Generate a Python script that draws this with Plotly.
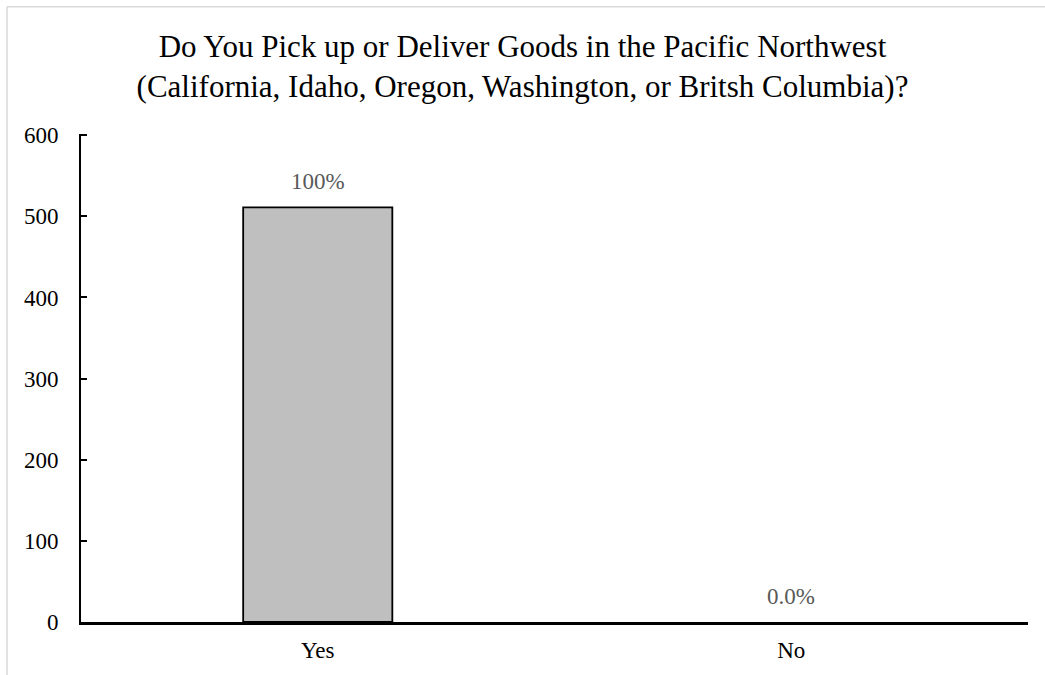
import plotly.graph_objects as go

categories = ["Yes", "No"]
values = [511, 0]
labels = ["100%", "0.0%"]
y_ticks = [0, 100, 200, 300, 400, 500, 600]

FONT = "Liberation Serif, Times New Roman, serif"

fig = go.Figure()
fig.add_trace(go.Bar(
    x=categories, y=values,
    marker=dict(color="#bfbfbf",
                line=dict(color="#000000", width=[1.8 if v > 0 else 0 for v in values])),
    width=0.315,
    hoverinfo="x+y",
))

for c, v, t in zip(categories, values, labels):
    fig.add_annotation(x=c, y=v, text=t, showarrow=False,
                       xref="x", yref="y", yanchor="bottom", yshift=11,
                       font=dict(family=FONT, size=23, color="#595959"))

# light gray chart border
fig.add_shape(type="line", xref="paper", yref="paper",
              x0=(7 - 81) / 947, x1=(7 - 81) / 947,
              y0=(622 - 8) / 487, y1=(622 - 680) / 487,
              line=dict(color="#d9d9d9", width=1.5))
fig.add_shape(type="line", xref="paper", yref="paper",
              x0=(7 - 81) / 947, x1=(1050 - 81) / 947,
              y0=(622 - 8) / 487, y1=(622 - 8) / 487,
              line=dict(color="#d9d9d9", width=1.5))

fig.update_layout(
    width=1045, height=675,
    margin=dict(l=81, r=17, t=134, b=53),
    paper_bgcolor="white", plot_bgcolor="white",
    showlegend=False,
    title=dict(
        text="Do You Pick up or Deliver Goods in the Pacific Northwest<br>(California, Idaho, Oregon, Washington, or Britsh Columbia)?",
        x=0.5, xanchor="center", y=0.916, yanchor="top",
        font=dict(family=FONT, size=31, color="#000000"),
    ),
    font=dict(family=FONT, size=23, color="#000000"),
    xaxis=dict(showline=True, linecolor="#000000", linewidth=2.5,
               ticks="", showgrid=False, zeroline=False,
               ticklabelstandoff=6,
               tickfont=dict(family=FONT, size=23, color="#000000")),
    yaxis=dict(range=[0, 601.5], tickmode="array", tickvals=y_ticks, showline=True,
               linecolor="#000000", linewidth=2, ticks="inside",
               ticklen=6, tickwidth=2, tickcolor="#000000",
               showgrid=False, zeroline=False, ticklabelstandoff=16,
               tickfont=dict(family=FONT, size=23, color="#000000")),
)

fig.write_html("out.html")
